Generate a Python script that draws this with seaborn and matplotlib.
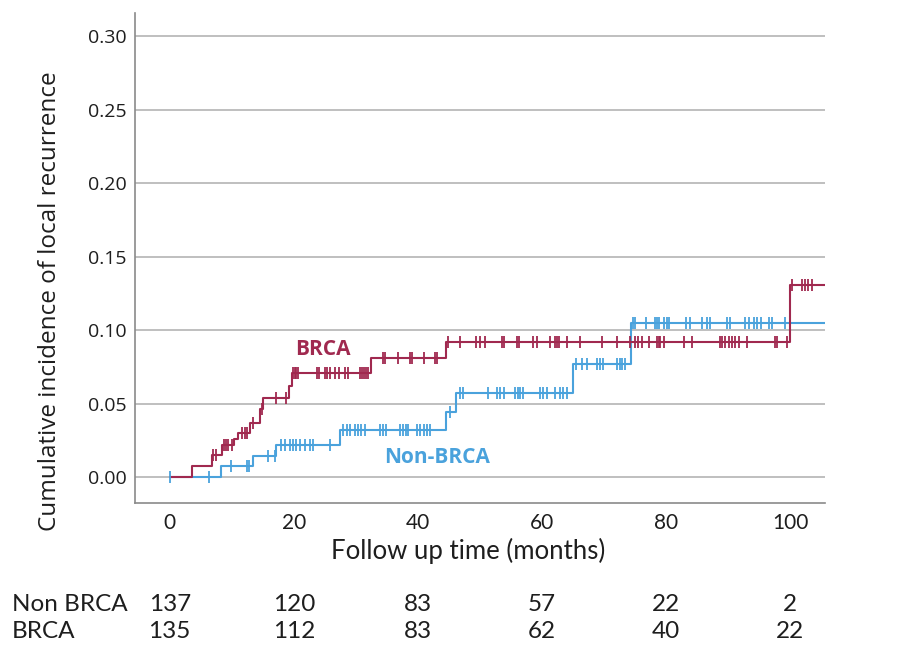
import numpy as np
import pandas as pd
import matplotlib
matplotlib.use("Agg")
import matplotlib.pyplot as plt
import seaborn as sns

# step points (time in months, cumulative incidence)
brca_times = [0, 3.6, 6.8, 8.4, 10.3, 11.0, 12.9, 14.5, 15.1, 19.2, 19.7, 32.5, 44.6, 100.0, 106.0]
brca_cuminc = [0, 0.0074, 0.0148, 0.022, 0.026, 0.030, 0.037, 0.046, 0.054, 0.062, 0.071,
               0.081, 0.092, 0.131, 0.131]
nonbrca_times = [0, 8.2, 13.5, 17.2, 27.4, 44.6, 46.2, 65.0, 74.3, 106.0]
nonbrca_cuminc = [0, 0.0073, 0.0146, 0.022, 0.032, 0.044, 0.057, 0.077, 0.105, 0.105]

# censored observations (months)
brca_censor = [7.0, 7.4, 8.8, 9.1, 9.4, 10.0, 11.6, 12.1, 12.5, 13.4, 14.8, 17.1, 18.8,
               19.9, 20.2, 20.4, 20.7, 23.7, 24.1, 25.0, 25.3, 25.8, 26.6, 27.3, 28.2, 28.8,
               30.6, 31.0, 31.3, 31.6, 31.9, 34.4, 34.7, 36.8, 38.7, 39.1, 40.9, 42.7, 43.0,
               44.9, 46.8, 49.4, 50.0, 50.8, 53.5, 53.8, 55.9, 56.3, 58.6, 59.2, 61.3, 62.1,
               62.4, 62.8, 64.0, 66.1, 69.7, 72.0, 74.2, 75.0, 75.5, 76.1, 77.3, 78.5, 78.8,
               79.0, 79.6, 82.8, 84.1, 88.7, 89.0, 89.5, 90.1, 90.6, 91.1, 91.7, 93.0, 97.6,
               97.8, 99.5, 100.3, 101.9, 102.4, 102.9, 103.5]
nonbrca_censor = [0.0, 6.3, 9.9, 12.5, 12.8, 15.9, 17.0, 18.0, 18.5, 19.4, 19.9, 20.4, 21.0,
                  21.8, 22.6, 23.1, 25.8, 28.0, 28.5, 29.0, 29.8, 30.4, 30.9, 31.5, 33.9,
                  34.4, 34.8, 37.1, 37.6, 38.1, 38.4, 39.8, 40.3, 40.9, 41.4, 41.9, 45.2,
                  46.8, 47.3, 51.3, 52.7, 53.2, 53.8, 55.6, 56.2, 56.5, 56.9, 59.7, 60.2,
                  60.8, 62.1, 62.9, 63.4, 64.0, 65.5, 66.4, 67.3, 68.8, 69.3, 69.8, 72.0,
                  72.5, 72.9, 73.4, 74.6, 74.9, 76.8, 78.2, 78.5, 78.8, 79.6, 80.1, 80.4,
                  83.2, 83.9, 85.8, 86.5, 87.1, 89.8, 90.3, 92.7, 93.3, 94.1, 94.6, 95.2,
                  96.5, 97.0, 99.2]

# numbers at risk
risk_times = [0, 20, 40, 60, 80, 100]
risk_nonbrca = [137, 120, 83, 57, 22, 2]
risk_brca = [135, 112, 83, 62, 40, 22]

red = "#a0294f"
blue = "#4aa2dc"
txt = "#1e1e1e"


def step_value(times, values, t):
    idx = np.searchsorted(times, t, side="right") - 1
    return np.asarray(values)[idx]


sns.set_style("white")
plt.rcParams["font.family"] = ["Lato", "DejaVu Sans"]

fig = plt.figure(figsize=(9.01, 6.46), dpi=100)
ax = fig.add_axes([0.1498, 0.2214, 0.7659, 0.7585])

curves = pd.DataFrame({
    "time": brca_times + nonbrca_times,
    "cuminc": brca_cuminc + nonbrca_cuminc,
    "group": ["BRCA"] * len(brca_times) + ["Non-BRCA"] * len(nonbrca_times),
})
censor = pd.DataFrame({
    "time": brca_censor + nonbrca_censor,
    "cuminc": list(step_value(brca_times, brca_cuminc, brca_censor))
    + list(step_value(nonbrca_times, nonbrca_cuminc, nonbrca_censor)),
    "group": ["BRCA"] * len(brca_censor) + ["Non-BRCA"] * len(nonbrca_censor),
})
pal = {"BRCA": red, "Non-BRCA": blue}

for g in ["Non-BRCA", "BRCA"]:
    d = curves[curves.group == g]
    sns.lineplot(data=d, x="time", y="cuminc", color=pal[g], drawstyle="steps-post",
                 linewidth=1.5, ax=ax, estimator=None, sort=False, zorder=3)
    c = censor[censor.group == g]
    sns.scatterplot(data=c, x="time", y="cuminc", color=pal[g], marker="|", s=70,
                    linewidth=1.3, ax=ax, zorder=4)

ax.set_xlim(-5.6, 105.6)
ax.set_ylim(-0.0177, 0.316)
ax.set_yticks([0.0, 0.05, 0.10, 0.15, 0.20, 0.25, 0.30])
ax.set_yticklabels(["0.00", "0.05", "0.10", "0.15", "0.20", "0.25", "0.30"],
                   family="Open Sans", fontsize=14, color=txt)
ax.set_xticks(risk_times)
ax.set_xticklabels([str(t) for t in risk_times], fontsize=15, color=txt)
ax.tick_params(axis="both", length=0)
ax.tick_params(axis="y", pad=6)
ax.tick_params(axis="x", pad=7)
ax.yaxis.grid(True, color="#b4b4b4", linewidth=1.2)
ax.xaxis.grid(False)
ax.set_axisbelow(True)
for s in ["top", "right"]:
    ax.spines[s].set_visible(False)
for s in ["left", "bottom"]:
    ax.spines[s].set_color("#8a8a8a")
    ax.spines[s].set_linewidth(1.2)
ax.set_xlabel("")
ax.set_ylabel("")

ax.text(24.7, 0.087, "BRCA", color=red, fontsize=15, fontweight="bold",
        family="Open Sans", ha="center", va="center")
ax.text(43.0, 0.0136, "Non-BRCA", color=blue, fontsize=15, fontweight="bold",
        family="Open Sans", ha="center", va="center")

fig.text(0.055, 0.533, "Cumulative incidence of local recurrence", rotation=90,
         family="Open Sans", fontsize=17.5, color=txt, ha="center", va="center")
fig.text(0.52, 0.147, "Follow up time (months)", fontsize=18.5, color=txt,
         ha="center", va="center")

# numbers at risk table
row_y = [0.064, 0.022]
fig.text(0.013, row_y[0], "Non BRCA", fontsize=17.5, color=txt, ha="left", va="center")
fig.text(0.013, row_y[1], "BRCA", fontsize=17.5, color=txt, ha="left", va="center")
for t, a, b in zip(risk_times, risk_nonbrca, risk_brca):
    xf = fig.transFigure.inverted().transform(ax.transData.transform((t, 0)))[0]
    fig.text(xf, row_y[0], str(a), fontsize=17.5, color=txt, ha="center", va="center")
    fig.text(xf, row_y[1], str(b), fontsize=17.5, color=txt, ha="center", va="center")

fig.savefig("out.png", dpi=100, facecolor="white")
